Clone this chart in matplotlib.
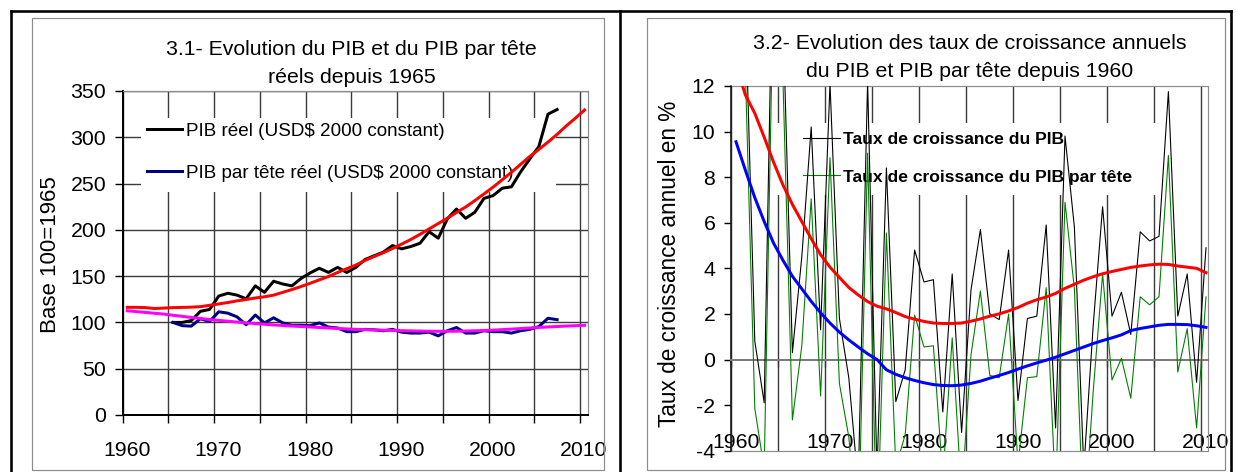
import numpy as np
import matplotlib
matplotlib.use("Agg")
import matplotlib.pyplot as plt
from matplotlib.lines import Line2D
from matplotlib.patches import Rectangle
from matplotlib.transforms import ScaledTranslation

plt.rcParams['font.family'] = ['Liberation Sans', 'DejaVu Sans']
plt.rcParams['axes.unicode_minus'] = False

# ------------------------------------------------------------------ data
annees_tendance = np.arange(1960, 2011)      # trend lines (both panels)
annees_niveau = np.arange(1965, 2008)        # level series, base 100 = 1965
annees_taux = np.arange(1961, 2011)          # annual growth rates

pib_reel = [100, 100, 102, 112, 114, 128.5, 131.5, 129.5, 125.5, 139.5,
            132.5, 144.5, 141.5, 139.5, 147.5, 153.5, 158.5, 154, 159.5, 154,
            159.5, 168, 172, 176, 183, 179.5, 182, 185.5, 198, 191,
            212, 222.5, 212.5, 219, 234, 237, 245, 246.5, 262.5, 276.5,
            290, 325, 330]
pib_tete = [100, 96.5, 96, 104, 101, 111.5, 110, 106, 97.5, 108,
            99.5, 105, 99.5, 97, 97, 96.5, 99.5, 95, 94, 90,
            90, 92.5, 92, 91, 92.5, 89.5, 88.5, 88.5, 89.5, 85.5,
            91, 94.5, 88.5, 88.5, 91, 90, 90, 88.5, 91, 92.5,
            95.5, 104.5, 103]
tendance_pib = [116.3, 116.3, 116.0, 115.0, 115.5, 116.0, 116.2, 116.5, 117.0, 118.5,
                120.0, 121.5, 123.3, 124.8, 126.4, 127.7, 129.5, 132.5, 135.5, 138.8,
                142.3, 146.0, 149.6, 154.0, 158.0, 162.0, 167.0, 171.2, 175.3, 179.9,
                184.6, 189.6, 195.1, 201.0, 206.8, 212.6, 218.8, 224.7, 231.6, 238.8,
                246.2, 254.1, 262.2, 270.7, 279.2, 286.9, 294.8, 303.2, 312.3, 320.7,
                329.5]
tendance_tete = [112.6, 111.7, 110.8, 109.9, 109.0, 107.7, 106.6, 105.4, 104.3, 103.1,
                 102.2, 101.3, 100.4, 99.5, 98.7, 98.0, 97.3, 96.7, 96.1, 95.6,
                 95.1, 94.5, 94.0, 93.5, 93.0, 92.5, 92.2, 91.9, 91.6, 91.3,
                 91.1, 90.9, 90.7, 90.5, 90.4, 90.4, 90.5, 90.7, 91.0, 91.3,
                 91.7, 92.2, 92.8, 93.4, 94.0, 94.6, 95.1, 95.6, 96.1, 96.5,
                 96.9]

taux_pib = [15.5, 0.8, -1.9, 20.0, 15.0, 0.3, 4.5, 10.2, 1.3,
            12.1, 1.8, -0.8, -5.5, 12.2, -5.0, 8.4, -1.85, -0.45, 4.8,
            3.4, 3.5, -2.3, 3.75, -3.2, 3.05, 5.7, 2.0, 1.75, 4.8,
            -1.8, 1.8, 1.9, 5.9, -3.0, 9.8, 5.8, -4.8, 1.5, 6.7,
            1.9, 2.95, 1.1, 5.6, 5.2, 5.4, 11.75, 1.9, 3.75, -1.0,
            4.9]
taux_tete = [12.6, -2.15, -4.8, 17.0, 12.2, -2.65, 0.6, 7.05, -1.6,
             8.85, -1.05, -3.4, -8.0, 9.05, -8.0, 5.55, -4.7, -3.3, 1.95,
             0.55, 0.6, -5.2, 0.95, -6.0, 0.2, 3.0, -0.7, -0.8, 2.0,
             -4.6, -0.8, -0.75, 3.15, -5.9, 6.9, 3.1, -7.5, -1.4, 3.75,
             -0.9, 0.05, -1.7, 2.75, 2.4, 2.75, 8.95, -0.55, 1.35, -3.0,
             2.75]
tendance_taux_pib = [12.9, 11.6, 10.8, 9.75, 8.65, 7.65, 6.8, 6.05, 5.3, 4.6,
                     4.05, 3.6, 3.16, 2.83, 2.54, 2.34, 2.22, 2.06, 1.88, 1.77,
                     1.67, 1.6, 1.58, 1.58, 1.6, 1.68, 1.78, 1.9, 2.0, 2.13,
                     2.28, 2.47, 2.62, 2.74, 2.9, 3.12, 3.3, 3.48, 3.63, 3.76,
                     3.86, 3.95, 4.04, 4.1, 4.15, 4.18, 4.17, 4.1, 4.05, 4.0,
                     3.81]
tendance_taux_tete = [9.55, 8.3, 7.1, 6.05, 5.1, 4.35, 3.65, 3.1, 2.55, 2.05,
                      1.6, 1.2, 0.86, 0.55, 0.25, 0.0, -0.45, -0.65, -0.8, -0.92,
                      -1.02, -1.1, -1.14, -1.15, -1.12, -1.05, -0.95, -0.82, -0.7, -0.57,
                      -0.42, -0.28, -0.15, -0.03, 0.1, 0.25, 0.4, 0.55, 0.7, 0.83,
                      0.95, 1.08, 1.27, 1.36, 1.43, 1.5, 1.54, 1.54, 1.53, 1.48,
                      1.41]

x_ticks = list(range(1960, 2011, 5))
x_ticklabels = ['1960', '', '1970', '', '1980', '', '1990', '', '2000', '', '2010']
y1_ticks = list(range(0, 351, 50))
y2_ticks = list(range(-4, 13, 2))

titre1 = ["3.1- Evolution du PIB et du PIB par tête", "réels depuis 1965"]
titre2 = ["3.2- Evolution des taux de croissance annuels",
          "du PIB et PIB par tête depuis 1960"]
lib_pib_reel = "PIB réel (USD$ 2000 constant)"
lib_pib_tete = "PIB par tête réel (USD$ 2000 constant)"
lib_taux_pib = "Taux de croissance du PIB"
lib_taux_tete = "Taux de croissance du PIB par tête"

# ------------------------------------------------------------------ layout helpers
W, H, DPI = 1236, 472, 100
fig = plt.figure(figsize=(W / DPI, H / DPI), dpi=DPI)


def fx(px):
    return px / W


def fy(py):
    return 1.0 - py / H


def pt(px):
    return px * 72.0 / DPI


GRID = '#3a3a3a'
BORDER = '#8c8c8c'
CAT = 0.5          # category (between tick marks) offset
FS = 15.3

# outer frame and panel borders (decoration)
for (x0, y0, x1, y1) in [(10.6, 11, 1231, 11), (10.6, 11, 10.6, 472),
                         (620, 11, 620, 472), (1231, 11, 1231, 472)]:
    fig.add_artist(Line2D([fx(x0), fx(x1)], [fy(y0), fy(y1)], color='black',
                          lw=pt(2.6), transform=fig.transFigure))
for (x0, y0, x1, y1) in [(31.6, 18.3, 603.8, 470), (646.9, 18.3, 1224.8, 470)]:
    fig.add_artist(Rectangle((fx(x0), fy(y1)), (x1 - x0) / W, (y1 - y0) / H,
                             fill=False, ec=BORDER, lw=pt(1.2),
                             transform=fig.transFigure))

# ------------------------------------------------------------------ left panel
L_x0, L_x1, L_top, L_bot = 122.7, 588.0, 91.0, 415.0
L_pxyr = (580.0 - 122.7) / 50.0
ax1 = fig.add_axes([fx(L_x0), fy(L_bot), (L_x1 - L_x0) / W, (L_bot - L_top) / H])
ax1.set_xlim(1960, 1960 + (L_x1 - L_x0) / L_pxyr)
ax1.set_ylim(0, 350)
ax1.set_axisbelow(True)
ax1.grid(True, color=GRID, lw=1.0)
ax1.set_xticks(x_ticks, x_ticklabels)
ax1.set_yticks(y1_ticks)
ax1.tick_params(axis='both', direction='out', length=pt(8), width=1.0,
                color='black', labelsize=FS)
ax1.tick_params(axis='x', pad=13.0)
ax1.tick_params(axis='y', pad=pt(8.7))
for s in ['top', 'right']:
    ax1.spines[s].set_color(BORDER)
    ax1.spines[s].set_linewidth(pt(1.2))
for s in ['left', 'bottom']:
    ax1.spines[s].set_color('black')
    ax1.spines[s].set_linewidth(pt(2))

h1, = ax1.plot(annees_niveau + CAT, pib_reel, color='black', lw=pt(3), zorder=6)
h2, = ax1.plot(annees_niveau + CAT, pib_tete, color='#000080', lw=pt(3), zorder=7)
ax1.plot(annees_tendance + CAT, tendance_pib, color='#ff0000', lw=pt(3), zorder=8)
ax1.plot(annees_tendance + CAT, tendance_tete, color='#ff00ff', lw=pt(3), zorder=9)

ax1.add_patch(Rectangle((fx(140.5), fy(192)), (556 - 140.5) / W, (192 - 118) / H,
                        transform=fig.transFigure, fc='white', ec='none', zorder=3))
ax1.legend([h1, h2], [lib_pib_reel, lib_pib_tete], loc='upper left',
           bbox_to_anchor=(fx(146.5), fy(122.8)), bbox_transform=fig.transFigure,
           frameon=False, borderpad=0, borderaxespad=0, handlelength=1.88,
           handletextpad=0.2, labelspacing=1.31, fontsize=13.6)

ax1.set_ylabel("Base 100=1965", fontsize=16, va='center')
ax1.yaxis.set_label_coords((50.6 - L_x0) / (L_x1 - L_x0), (L_bot - 255) / (L_bot - L_top))

fig.text(fx(351), fy(55), titre1[0], ha='center', va='baseline', fontsize=FS)
fig.text(fx(352), fy(83.3), titre1[1], ha='center', va='baseline', fontsize=FS)

off1 = ScaledTranslation(4 / DPI, 0, fig.dpi_scale_trans)
for lbl in ax1.get_xticklabels():
    lbl.set_transform(lbl.get_transform() + off1)

# ------------------------------------------------------------------ right panel
R_x0, R_x1, R_top, R_bot = 731.3, 1208.0, 85.9, 450.7
R_pxyr = (1201.3 - 731.3) / 50.0
ax2 = fig.add_axes([fx(R_x0), fy(R_bot), (R_x1 - R_x0) / W, (R_bot - R_top) / H])
ax2.set_xlim(1960, 1960 + (R_x1 - R_x0) / R_pxyr)
ax2.set_ylim(-4, 12)
ax2.set_axisbelow(True)
ax2.grid(True, axis='x', color=GRID, lw=1.0)
ax2.set_xticks(x_ticks)
ax2.set_yticks(y2_ticks)
ax2.tick_params(axis='x', direction='out', length=pt(7), width=1.0, color=GRID,
                labelbottom=False)
ax2.tick_params(axis='y', direction='out', length=pt(7), width=1.0, color='black',
                labelsize=FS, pad=pt(9))
ax2.spines['bottom'].set_position(('data', 0))
ax2.spines['bottom'].set_color('#7a7a7a')
ax2.spines['bottom'].set_linewidth(pt(2))
ax2.spines['top'].set_visible(False)
ax2.spines['right'].set_visible(False)
ax2.spines['left'].set_color('black')
ax2.spines['left'].set_linewidth(pt(1.5))
ax2.add_patch(Rectangle((0, 0), 1, 1, transform=ax2.transAxes, fill=False,
                        ec=BORDER, lw=pt(1.2), zorder=2.4, clip_on=False))

sec = ax2.secondary_xaxis(0.0)
sec.set_xticks(x_ticks, x_ticklabels)
sec.tick_params(length=0, pad=-pt(17.7), labelsize=FS)
sec.spines['bottom'].set_visible(False)
off2 = ScaledTranslation(4.5 / DPI, 0, fig.dpi_scale_trans)
for lbl in sec.get_xticklabels():
    lbl.set_transform(lbl.get_transform() + off2)

g1, = ax2.plot(annees_taux + CAT, taux_pib, color='black', lw=pt(1.1), zorder=6)
g2, = ax2.plot(annees_taux + CAT, taux_tete, color='#008000', lw=pt(1.1), zorder=7)
ax2.plot(annees_tendance + CAT, tendance_taux_pib, color='#ff0000', lw=pt(3), zorder=8)
ax2.plot(annees_tendance + CAT, tendance_taux_tete, color='#0000ff', lw=pt(3), zorder=9)

ax2.add_patch(Rectangle((fx(765), fy(195)), (1165 - 765) / W, (195 - 122.7) / H,
                        transform=fig.transFigure, fc='white', ec='none', zorder=3))
ax2.legend([g1, g2], [lib_taux_pib, lib_taux_tete], loc='upper left',
           bbox_to_anchor=(fx(803.3), fy(132.0)), bbox_transform=fig.transFigure,
           frameon=False, borderpad=0, borderaxespad=0, handlelength=2.11,
           handletextpad=0.17, labelspacing=1.26,
           prop={'size': 12.6, 'weight': 'bold'})

ax2.set_ylabel("Taux de croissance annuel en %", fontsize=16.3, va='center')
ax2.yaxis.set_label_coords((669.3 - R_x0) / (R_x1 - R_x0), (R_bot - 264) / (R_bot - R_top))

fig.text(fx(970), fy(49.3), titre2[0], ha='center', va='baseline', fontsize=FS)
fig.text(fx(970), fy(77.3), titre2[1], ha='center', va='baseline', fontsize=FS)

fig.savefig("out.png", dpi=DPI)
